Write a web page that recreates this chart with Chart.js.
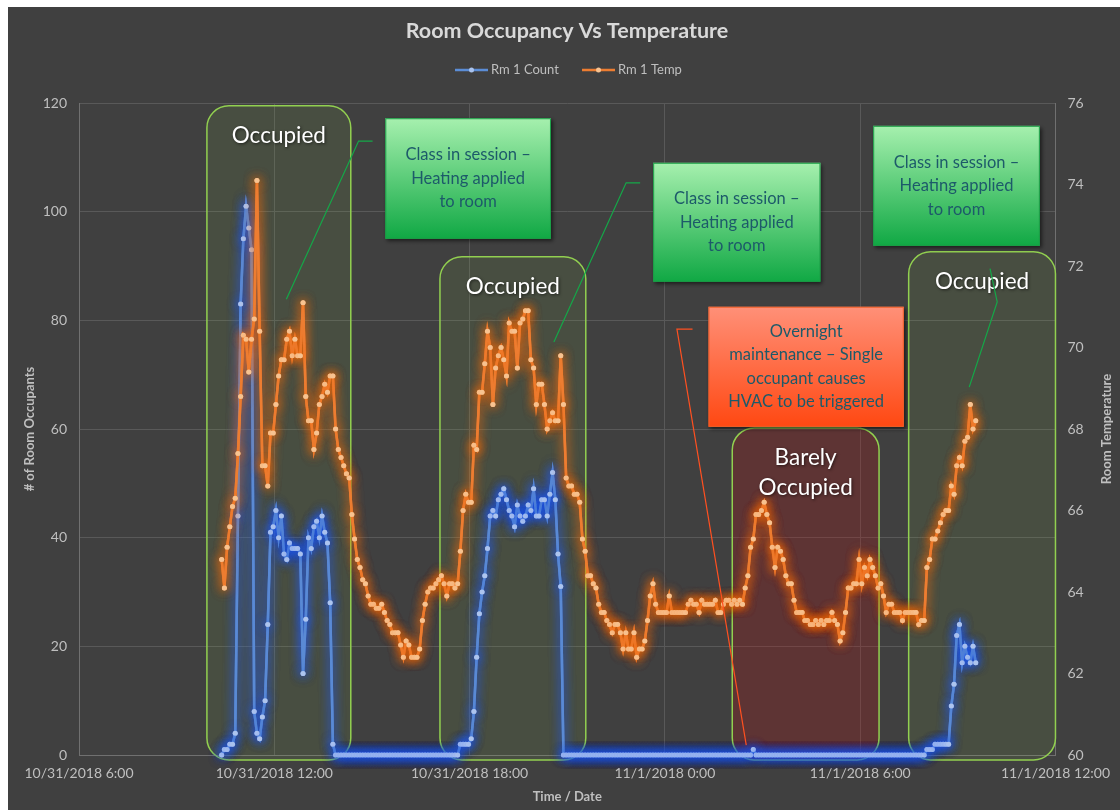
<!DOCTYPE html>
<html>
<head>
<meta charset="utf-8">
<title>Room Occupancy Vs Temperature</title>
<script src="https://cdn.jsdelivr.net/npm/chart.js@4.4.1/dist/chart.umd.min.js"></script>
<style>
  html, body { margin: 0; padding: 0; background: #fff; }
  #wrap { width: 1120px; height: 810px; }
</style>
</head>
<body>
<div id="wrap"><canvas id="js--kamerChart" width="1120" height="810"></canvas></div>
<script>
// readings, one every 5 minutes from 10/31/2018 10:23
const startHour = 10 + 23 / 60;   // hours since 10/31/2018 0:00
const stepMinutes = 5;

const rm1Count = [
    0, 1, 1, 2, 2, 4, 44, 83, 95, 101,
    97, 93, 8, 4, 3, 7, 10, 24, 41, 42,
    45, 40, 44, 37, 36, 39, 38, 38, 38, 37,
    15, 25, 40, 38, 42, 43, 40, 44, 41, 39,
    28, 2, 0, 0, 0, 0, 0, 0, 0, 0,
    0, 0, 0, 0, 0, 0, 0, 0, 0, 0,
    0, 0, 0, 0, 0, 0, 0, 0, 0, 0,
    0, 0, 0, 0, 0, 0, 0, 0, 0, 0,
    0, 0, 0, 0, 0, 0, 0, 0, 2, 2,
    2, 2, 3, 8, 18, 26, 30, 33, 38, 44,
    45, 44, 47, 48, 49, 47, 45, 44, 42, 46,
    44, 43, 44, 46, 45, 49, 44, 44, 47, 47,
    44, 48, 52, 47, 37, 31, 0, 0, 0, 0,
    0, 0, 0, 0, 0, 0, 0, 0, 0, 0,
    0, 0, 0, 0, 0, 0, 0, 0, 0, 0,
    0, 0, 0, 0, 0, 0, 0, 0, 0, 0,
    0, 0, 0, 0, 0, 0, 0, 0, 0, 0,
    0, 0, 0, 0, 0, 0, 0, 0, 0, 0,
    0, 0, 0, 0, 0, 0, 0, 0, 0, 0,
    0, 0, 0, 0, 0, 0, 1, 0, 0, 0,
    0, 0, 0, 0, 0, 0, 0, 0, 0, 0,
    0, 0, 0, 0, 0, 0, 0, 0, 0, 0,
    0, 0, 0, 0, 0, 0, 0, 0, 0, 0,
    0, 0, 0, 0, 0, 0, 0, 0, 0, 0,
    0, 0, 0, 0, 0, 0, 0, 0, 0, 0,
    0, 0, 0, 0, 0, 0, 0, 0, 0, 0,
    1, 1, 1, 2, 2, 2, 2, 2, 2, 9,
    13, 22, 24, 17, 20, 18, 17, 20, 17
];

const rm1Temp = [
    64.8, 64.1, 65.1, 65.6, 66.1, 66.3, 67.4, 68.8, 70.3, 70.2,
    69.4, 70.2, 70.7, 74.1, 70.4, 67.1, 67.1, 66.6, 67.9, 67.9,
    68.6, 69.3, 69.7, 69.7, 70.2, 70.4, 69.8, 70.2, 69.8, 69.8,
    71.1, 68.8, 68.2, 68.2, 67.5, 67.9, 68.6, 68.8, 69.1, 68.9,
    69.3, 69.3, 68.0, 67.5, 67.3, 67.1, 66.9, 66.8, 65.9, 65.3,
    64.8, 64.6, 64.3, 64.2, 63.9, 63.7, 63.7, 63.6, 63.6, 63.7,
    63.5, 63.3, 63.2, 63.0, 63.0, 63.0, 62.7, 62.4, 62.8, 62.7,
    62.4, 62.4, 62.4, 62.6, 63.3, 63.7, 64.0, 64.1, 64.1, 64.2,
    64.3, 64.4, 64.2, 63.9, 64.2, 64.2, 64.1, 64.2, 65.0, 66.0,
    66.4, 66.2, 66.2, 67.6, 67.5, 68.9, 68.9, 69.6, 70.4, 70.0,
    68.6, 69.5, 69.8, 70.0, 69.7, 69.3, 70.6, 70.4, 70.4, 69.5,
    70.6, 70.7, 70.9, 70.9, 69.7, 69.5, 68.6, 69.1, 69.1, 68.6,
    68.0, 68.2, 68.4, 68.2, 68.2, 69.8, 68.6, 66.8, 66.6, 66.6,
    66.4, 66.4, 66.2, 65.3, 65.0, 64.4, 64.4, 64.2, 64.1, 63.7,
    63.5, 63.5, 63.3, 63.2, 63.0, 63.2, 63.2, 63.0, 62.6, 63.0,
    62.6, 62.6, 63.0, 62.4, 62.6, 62.6, 62.8, 63.3, 63.9, 64.2,
    63.7, 63.5, 63.5, 63.5, 63.5, 63.9, 63.5, 63.5, 63.5, 63.5,
    63.5, 63.5, 63.7, 63.8, 63.7, 63.7, 63.5, 63.8, 63.7, 63.7,
    63.7, 63.7, 63.8, 63.5, 63.5, 63.7, 63.8, 63.8, 63.7, 63.8,
    63.7, 63.8, 63.7, 64.1, 64.4, 65.1, 65.3, 65.9, 65.9, 66.0,
    66.2, 65.9, 65.7, 65.1, 64.6, 65.1, 65.0, 64.8, 64.4, 64.2,
    64.2, 63.8, 63.5, 63.5, 63.5, 63.3, 63.3, 63.2, 63.2, 63.3,
    63.2, 63.3, 63.2, 63.3, 63.3, 63.5, 63.3, 63.2, 62.8, 63.0,
    63.5, 64.1, 64.1, 64.2, 64.2, 64.8, 64.2, 64.6, 64.4, 64.8,
    64.6, 64.4, 64.1, 64.2, 63.9, 63.5, 63.7, 63.7, 63.5, 63.5,
    63.5, 63.3, 63.5, 63.5, 63.5, 63.5, 63.5, 63.2, 63.3, 63.3,
    64.6, 64.8, 65.3, 65.3, 65.5, 65.7, 65.9, 66.0, 66.0, 66.6,
    66.4, 67.1, 67.3, 67.1, 67.7, 67.8, 68.6, 68.0, 68.2
];

// x axis: hours since 10/31/2018 0:00
const xTicks = [6, 12, 18, 24, 30, 36];
const xTickLabels = ["10/31/2018 6:00", "10/31/2018 12:00", "10/31/2018 18:00",
                     "11/1/2018 0:00", "11/1/2018 6:00", "11/1/2018 12:00"];

const times = rm1Temp.map((_, i) => startHour + i * stepMinutes / 60);

// annotations, in axis units (hours / occupants)
const zones = [
    { label: ["Occupied"], from: 9.93, to: 14.35, top: 119.5, fill: "rgba(146,208,80,0.10)" },
    { label: ["Occupied"], from: 17.09, to: 21.57, top: 91.7, fill: "rgba(146,208,80,0.10)" },
    { label: ["Barely", "Occupied"], from: 26.07, to: 30.58, top: 60.2, fill: "rgba(200,10,10,0.22)" },
    { label: ["Occupied"], from: 31.49, to: 36.0, top: 92.6, fill: "rgba(146,208,80,0.10)" }
];

const notes = [
    { text: ["Class in session \u2013", "Heating applied", "to room"], from: 15.41, to: 20.50, top: 117.2, bottom: 95.0,
      colors: ["#a6f0ae", "#10a844"], edge: "#1b9e46", line: "#14a848",
      leader: [[15.02, 113.0], [14.59, 113.0], [12.37, 83.9]] },
    { text: ["Class in session \u2013", "Heating applied", "to room"], from: 23.64, to: 28.78, top: 109.0, bottom: 87.1,
      colors: ["#a6f0ae", "#10a844"], edge: "#1b9e46", line: "#14a848",
      leader: [[23.24, 105.3], [22.81, 105.3], [20.59, 76.0]] },
    { text: ["Class in session \u2013", "Heating applied", "to room"], from: 30.40, to: 35.52, top: 115.8, bottom: 93.7,
      colors: ["#a6f0ae", "#10a844"], edge: "#1b9e46", line: "#14a848",
      leader: [[33.99, 89.5], [34.21, 83.4], [33.35, 67.7]] },
    { text: ["Overnight", "maintenance \u2013 Single", "occupant causes", "HVAC to be triggered"], from: 25.34, to: 31.34, top: 82.5, bottom: 60.4,
      colors: ["#ff9078", "#ff4812"], edge: "#f0602a", line: "#ff5020",
      leader: [[24.85, 78.4], [24.37, 78.4], [26.50, 1.8]] }
];

Chart.defaults.font.family = "Lato";

function roundBox(ctx, x, y, w, h, r) {
    ctx.beginPath();
    ctx.moveTo(x + r, y);
    ctx.arcTo(x + w, y, x + w, y + h, r);
    ctx.arcTo(x + w, y + h, x, y + h, r);
    ctx.arcTo(x, y + h, x, y, r);
    ctx.arcTo(x, y, x + w, y, r);
    ctx.closePath();
}

const achtergrond = {
    id: "achtergrond",
    beforeDraw(chart) {
        const ctx = chart.ctx;
        ctx.save();
        ctx.fillStyle = "#ffffff";
        ctx.fillRect(0, 0, chart.width, chart.height);
        ctx.fillStyle = "#404040";
        ctx.fillRect(8, 7, chart.width - 8, chart.height - 7);
        ctx.restore();
    }
};

// glow round the lines: draw each dataset twice with a coloured shadow
const glow = {
    id: "glow",
    beforeDatasetDraw(chart, args) {
        const ctx = chart.ctx;
        ctx.save();
        ctx.shadowColor = chart.data.datasets[args.index].glowColor;
        ctx.shadowBlur = 11;
    },
    afterDatasetDraw(chart, args) {
        args.meta.controller.draw();
        chart.ctx.restore();
    }
};

const vakken = {
    id: "vakken",
    beforeDatasetsDraw(chart) {
        const ctx = chart.ctx, xs = chart.scales.x, ys = chart.scales.y;
        ctx.save();
        zones.forEach(z => {
            const l = xs.getPixelForValue(z.from), r = xs.getPixelForValue(z.to);
            const t = ys.getPixelForValue(z.top), b = ys.getPixelForValue(-0.9);
            roundBox(ctx, l, t, r - l, b - t, 22);
            ctx.fillStyle = z.fill;
            ctx.fill();
            ctx.lineWidth = 1.5;
            ctx.strokeStyle = "#92d050";
            ctx.stroke();
        });
        ctx.restore();
    },
    afterDatasetsDraw(chart) {
        const ctx = chart.ctx, xs = chart.scales.x, ys = chart.scales.y;
        ctx.save();
        // zone labels
        ctx.font = "22.5px Lato";
        ctx.textAlign = "center";
        ctx.textBaseline = "middle";
        zones.forEach(z => {
            const cx = (xs.getPixelForValue(z.from) + xs.getPixelForValue(z.to)) / 2;
            const t = ys.getPixelForValue(z.top);
            z.label.forEach((s, k) => {
                ctx.shadowColor = "rgba(0,0,0,0.6)";
                ctx.shadowBlur = 3;
                ctx.shadowOffsetX = 1;
                ctx.shadowOffsetY = 1;
                ctx.fillStyle = "#ffffff";
                ctx.fillText(s, cx, t + 30 + k * 30);
            });
        });
        // callouts
        notes.forEach(n => {
            const l = xs.getPixelForValue(n.from), r = xs.getPixelForValue(n.to);
            const t = ys.getPixelForValue(n.top), b = ys.getPixelForValue(n.bottom);
            ctx.shadowColor = "transparent";
            ctx.strokeStyle = n.line;
            ctx.lineWidth = 1.2;
            ctx.beginPath();
            n.leader.forEach((p, k) => {
                const px = xs.getPixelForValue(p[0]), py = ys.getPixelForValue(p[1]);
                if (k === 0) ctx.moveTo(px, py); else ctx.lineTo(px, py);
            });
            ctx.stroke();

            const g = ctx.createLinearGradient(0, t, 0, b);
            g.addColorStop(0, n.colors[0]);
            g.addColorStop(1, n.colors[1]);
            ctx.shadowColor = "rgba(0,0,0,0.55)";
            ctx.shadowBlur = 4;
            ctx.shadowOffsetX = 2;
            ctx.shadowOffsetY = 2;
            ctx.fillStyle = g;
            ctx.fillRect(l, t, r - l, b - t);
            ctx.shadowColor = "transparent";
            ctx.strokeStyle = n.edge;
            ctx.lineWidth = 1;
            ctx.strokeRect(l + 0.5, t + 0.5, r - l - 1, b - t - 1);

            ctx.font = "16.5px Lato";
            ctx.fillStyle = "#1d5a6a";
            const cy = (t + b) / 2;
            n.text.forEach((s, k) => {
                ctx.fillText(s, (l + r) / 2, cy + (k - (n.text.length - 1) / 2) * 23.5);
            });
        });
        ctx.restore();
    }
};

const teksten = {
    id: "teksten",
    afterDraw(chart) {
        const ctx = chart.ctx, area = chart.chartArea;
        ctx.save();
        ctx.textAlign = "center";
        ctx.textBaseline = "middle";
        // title
        ctx.fillStyle = "#d9d9d9";
        ctx.font = "bold 21.5px Lato";
        ctx.fillText("Room Occupancy Vs Temperature", 567, 31);
        // legend
        const items = [
            { name: "Rm 1 Count", color: "#5b8dd6", dot: "#a9c2ec", x: 455 },
            { name: "Rm 1 Temp", color: "#ed7d31", dot: "#f7c391", x: 582 }
        ];
        ctx.font = "13px Lato";
        items.forEach(it => {
            ctx.strokeStyle = it.color;
            ctx.lineWidth = 2.5;
            ctx.beginPath();
            ctx.moveTo(it.x, 70);
            ctx.lineTo(it.x + 33, 70);
            ctx.stroke();
            ctx.fillStyle = it.dot;
            ctx.beginPath();
            ctx.arc(it.x + 16.5, 70, 2.5, 0, Math.PI * 2);
            ctx.fill();
            ctx.fillStyle = "#bfbfbf";
            ctx.textAlign = "left";
            ctx.fillText(it.name, it.x + 36, 70);
        });
        // axis titles
        ctx.font = "bold 13px Lato";
        ctx.fillStyle = "#bfbfbf";
        ctx.textAlign = "center";
        ctx.fillText("Time / Date", (area.left + area.right) / 2, 797);
        const midY = (area.top + area.bottom) / 2;
        ctx.translate(30, midY);
        ctx.rotate(-Math.PI / 2);
        ctx.fillText("# of Room Occupants", 0, 0);
        ctx.rotate(Math.PI / 2);
        ctx.translate(1107 - 30, 0);
        ctx.rotate(-Math.PI / 2);
        ctx.fillText("Room Temperature", 0, 0);
        ctx.restore();
    }
};

const tickFont = { family: "Lato", size: 14 };

const kamerChart = new Chart(document.getElementById("js--kamerChart"), {
    type: "line",
    data: {
        datasets: [{
            label: "Rm 1 Count",
            data: rm1Count.map((v, i) => ({ x: times[i], y: v })),
            yAxisID: "y",
            borderColor: "#5a8ad4",
            borderWidth: 2.5,
            pointRadius: 2.5,
            pointBorderWidth: 0,
            pointBackgroundColor: "#adc4ee",
            glowColor: "rgba(30,90,255,0.9)",
            clip: false,
            order: 1
        }, {
            label: "Rm 1 Temp",
            data: rm1Temp.map((v, i) => ({ x: times[i], y: v })),
            yAxisID: "y1",
            borderColor: "#ed7d31",
            borderWidth: 2.5,
            pointRadius: 2.5,
            pointBorderWidth: 0,
            pointBackgroundColor: "#f7c391",
            glowColor: "rgba(255,110,10,0.85)",
            clip: false,
            order: 0
        }]
    },
    options: {
        responsive: false,
        animation: false,
        layout: { padding: { top: 103, left: 0, right: 0, bottom: 0 } },
        plugins: {
            legend: { display: false },
            title: { display: false },
            tooltip: { enabled: false }
        },
        scales: {
            x: {
                type: "linear",
                min: 6,
                max: 36,
                afterBuildTicks: s => { s.ticks = xTicks.map(v => ({ value: v })); },
                afterFit: s => { s.height = 55; },
                ticks: {
                    color: "#bfbfbf",
                    font: tickFont,
                    padding: 10,
                    maxRotation: 0,
                    autoSkip: false,
                    callback: v => xTickLabels[xTicks.indexOf(v)]
                },
                grid: { color: "#595959", drawTicks: false },
                border: { color: "#707070" }
            },
            y: {
                position: "left",
                min: 0,
                max: 120,
                afterFit: s => { s.width = 79; },
                ticks: { stepSize: 20, color: "#bfbfbf", font: tickFont, padding: 12 },
                grid: { color: "#595959", drawTicks: false },
                border: { color: "#707070" }
            },
            y1: {
                position: "right",
                min: 60,
                max: 76,
                afterFit: s => { s.width = 56; },
                ticks: { stepSize: 2, color: "#bfbfbf", font: tickFont, padding: 12 },
                grid: { drawOnChartArea: false, drawTicks: false },
                border: { color: "#707070" }
            }
        }
    },
    plugins: [achtergrond, vakken, glow, teksten]
});
</script>
</body>
</html>
